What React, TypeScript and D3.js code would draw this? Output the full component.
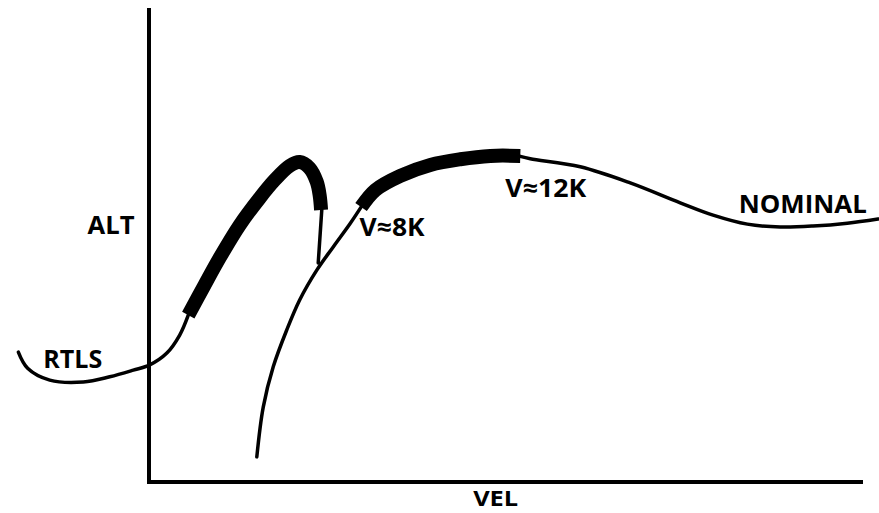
import React from "react";
import * as d3 from "d3";

type P = [number, number];

// Curves in chart units (x: velocity, y: altitude), domain 0..100 on both axes
const rtlsLow: P[] = [
  [-18.3, 27.4], [-17.0, 24.0], [-13.9, 21.5], [-9.2, 21.1], [-5.5, 22.2],
  [-2.2, 23.6], [0.1, 24.7], [2.5, 27.2], [4.3, 31.0], [5.5, 35.2],
];
const rtlsThick: P[] = [
  [5.5, 35.2], [7.8, 41.6], [9.9, 47.3], [12.7, 54.2], [15.5, 59.9],
  [17.6, 63.7], [19.7, 66.7], [21.1, 67.5], [22.5, 66.2], [23.5, 63.3],
  [23.9, 60.5], [24.1, 57.4],
];
const rtlsDrop: P[] = [[24.2, 57.4], [23.7, 46.2]];

const nominalLow: P[] = [
  [15.1, 5.3], [16.0, 15.8], [17.4, 24.3], [19.3, 32.1], [21.1, 38.4],
  [23.5, 44.7], [25.8, 49.6], [28.2, 54.6], [29.7, 58.0],
];
const nominalThick: P[] = [
  [29.7, 58.0], [31.7, 61.6], [35.2, 64.6], [39.4, 66.9], [43.6, 68.1],
  [47.8, 68.8], [52.0, 68.8],
];
const nominalHigh: P[] = [
  [52.0, 68.7], [53.4, 68.2], [60.4, 66.5], [67.4, 63.1], [74.4, 58.9],
  [79.0, 56.3], [83.8, 54.4], [88.4, 53.8], [93.0, 54.0], [97.8, 54.6],
  [102.1, 55.5],
];

const labels = ["ALT", "VEL", "RTLS", "NOMINAL", "V≈8K", "V≈12K"];
const labelPos: P[] = [
  [-8.6, 52.3], [45.4, -5.1], [-14.8, 24.1], [82.6, 56.8], [29.5, 51.9], [49.9, 60.1],
];
const labelWidth = [47, 45, 59, 128, 65, 81];
const labelSize = [25, 22, 25, 25, 25, 25];

const W = 879;
const H = 513;

export default function App() {
  const x = d3.scaleLinear().domain([0, 100]).range([149, 863]);
  const y = d3.scaleLinear().domain([0, 100]).range([482, 8]);
  const line = d3
    .line<P>()
    .x((d) => x(d[0]))
    .y((d) => y(d[1]))
    .curve(d3.curveCatmullRom.alpha(0.5));
  const straight = d3
    .line<P>()
    .x((d) => x(d[0]))
    .y((d) => y(d[1]));

  const thin = { fill: "none", stroke: "#000", strokeWidth: 3.5, strokeLinecap: "round" as const };
  const thick = { fill: "none", stroke: "#000", strokeWidth: 14, strokeLinecap: "butt" as const };

  return (
    <svg
      width={W}
      height={H}
      style={{ position: "absolute", left: 0, top: 0, background: "#fff" }}
    >
      <rect x={0} y={0} width={W} height={H} fill="#fff" />
      {/* axes */}
      <path
        d={`M${x(0)},${y(100)}V${y(0)}H${x(100)}`}
        fill="none"
        stroke="#000"
        strokeWidth={4}
        strokeLinejoin="miter"
      />
      <path d={line(rtlsLow) || ""} {...thin} />
      <path d={straight(rtlsDrop) || ""} {...thin} />
      <path d={line(nominalLow) || ""} {...thin} />
      <path d={line(nominalHigh) || ""} {...thin} />
      <path d={line(rtlsThick) || ""} {...thick} />
      <path d={line(nominalThick) || ""} {...thick} />
      {labels.map((t, i) => (
        <text
          key={t}
          x={x(labelPos[i][0])}
          y={y(labelPos[i][1])}
          fontFamily="'Open Sans', sans-serif"
          fontWeight={700}
          fontSize={labelSize[i]}
          textLength={labelWidth[i]}
          lengthAdjust="spacingAndGlyphs"
          fill="#000"
        >
          {t}
        </text>
      ))}
    </svg>
  );
}
